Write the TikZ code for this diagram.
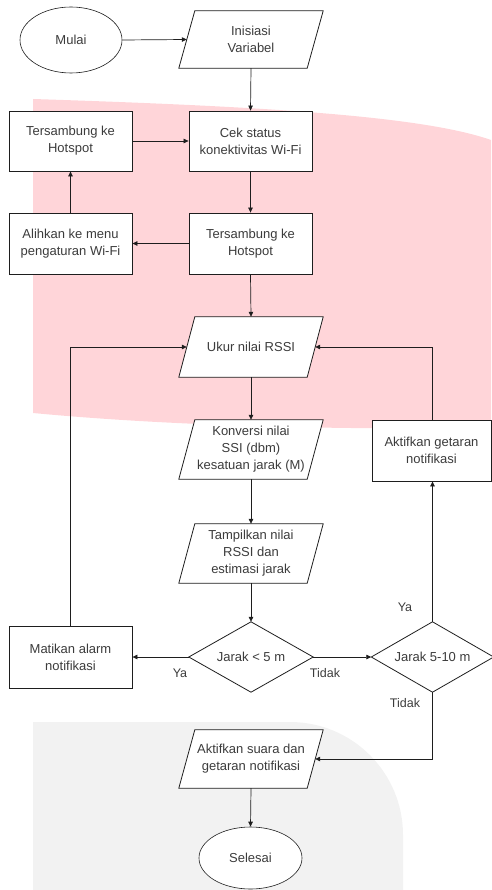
\documentclass[tikz,border=0pt]{standalone}
\usepackage{fontspec}
\setmainfont{Liberation Sans}
\usetikzlibrary{shapes.geometric,arrows.meta,calc}
\definecolor{bgpink}{RGB}{255,213,217}
\definecolor{bggray}{RGB}{242,242,242}
\definecolor{txt}{RGB}{60,60,60}
\definecolor{ln}{RGB}{30,30,30}
\tikzset{
  every node/.style={font=\fontsize{13}{17}\selectfont, text=txt, align=center, inner sep=0pt},
  procbox/.style={draw=ln, line width=0.8pt, fill=white, rectangle, minimum width=123pt, minimum height=60pt},
  iobox/.style={rectangle, minimum width=128pt, minimum height=#1},
  termbox/.style={draw=ln, line width=0.6pt, fill=white, ellipse, minimum width=102pt, minimum height=#1},
  decbox/.style={rectangle, minimum width=#1, minimum height=70pt},
  arr/.style={draw=ln, line width=0.7pt, -{Triangle[length=5pt,width=4.5pt]}},
  shapeline/.style={draw=ln, line width=0.8pt, fill=white},
  lbl/.style={font=\fontsize{12.5}{15}\selectfont}
}
\newcommand{\paraframe}[1]{%
  \path[shapeline] ($(#1.south west)+(-8,0)$) -- ($(#1.south east)+(-8,0)$) -- ($(#1.north east)+(8,0)$) -- ($(#1.north west)+(8,0)$) -- cycle;}
\newcommand{\diaframe}[1]{%
  \path[shapeline] (#1.north) -- (#1.east) -- (#1.south) -- (#1.west) -- cycle;}
\begin{document}
\begin{tikzpicture}[x=1pt,y=-1pt]
\useasboundingbox (0,0) rectangle (491,890);
% background shapes
\fill[bgpink] (33,99) .. controls (250,106) and (420,115) .. (491,140) -- (491,428)
  .. controls (300,430) and (150,424) .. (33,413) -- cycle;
\fill[bggray] (33,722) -- (290,722) arc[start angle=-90, end angle=0, radius=113] -- (403,890) -- (33,890) -- cycle;

% nodes
\node[termbox=66pt] (mulai) at (71,40) {Mulai};
\node[iobox=57pt] (inis) at (251,39.5) {};
\paraframe{inis}
\node at (inis) {Inisiasi\\Variabel};

\node[procbox] (cek) at (250.5,141) {Cek status\\konektivitas Wi-Fi};
\node[procbox] (ts1) at (70.5,141) {Tersambung ke\\Hotspot};
\node[procbox, minimum height=61pt] (ts2) at (250.5,243.5) {Tersambung ke\\Hotspot};
\node[procbox, minimum height=61pt] (alih) at (70.5,243.5) {Alihkan ke menu\\pengaturan Wi-Fi};

\node[iobox=60pt] (ukur) at (251,347) {};
\paraframe{ukur}
\node at (ukur) {Ukur nilai RSSI};

\node[iobox=59pt] (konv) at (251,449.5) {};
\paraframe{konv}
\node at (konv) {Konversi nilai\\SSI (dbm)\\kesatuan jarak (M)};

\node[procbox, minimum width=119pt, minimum height=61pt] (akt) at (431.5,450.5) {Aktifkan getaran\\notifikasi};

\node[iobox=59pt] (tamp) at (251,553.5) {};
\paraframe{tamp}
\node at (tamp) {Tampilkan nilai\\RSSI dan\\estimasi jarak};

\node[decbox=124pt] (d1) at (251,657) {};
\diaframe{d1}
\node at (d1) {Jarak < 5 m};

\node[decbox=122pt] (d2) at (432.5,657) {};
\diaframe{d2}
\node at (d2) {Jarak 5-10 m};

\node[procbox, minimum height=62pt] (mat) at (70.5,657) {Matikan alarm\\notifikasi};

\node[iobox=58pt] (suara) at (251,759) {};
\paraframe{suara}
\node at (suara) {Aktifkan suara dan\\getaran notifikasi};

\node[termbox=62pt, minimum width=103pt] (sel) at (250.5,858) {Selesai};

% labels
\node[lbl] (lya1) at (180,673) {Ya};
\node[lbl] (ltd1) at (325,673) {Tidak};
\node[lbl] (lya2) at (405,607) {Ya};
\node[lbl] (ltd2) at (405,703) {Tidak};

% connectors
\draw[arr] (mulai.east) -- (inis.west);
\draw[arr] (inis.south) -- (cek.north);
\draw[arr] (ts1.east) -- (cek.west);
\draw[arr] (cek.south) -- (ts2.north);
\draw[arr] (ts2.west) -- (alih.east);
\draw[arr] (alih.north) -- (ts1.south);
\draw[arr] (ts2.south) -- (ukur.north);
\draw[arr] (ukur.south) -- (konv.north);
\draw[arr] (konv.south) -- (tamp.north);
\draw[arr] (tamp.south) -- (d1.north);
\draw[arr] (d1.west) -- (mat.east);
\draw[arr] (d1.east) -- (d2.west);
\draw[arr] (mat.north) |- (ukur.west);
\draw[arr] (d2.north) -- (d2.north |- akt.south);
\draw[arr] (d2.north |- akt.north) |- (ukur.east);
\draw[arr] (d2.south) |- (suara.east);
\draw[arr] (suara.south) -- (sel.north);
\end{tikzpicture}
\end{document}
